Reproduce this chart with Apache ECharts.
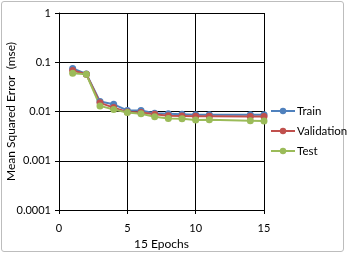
<!DOCTYPE html>
<html>
<head>
<meta charset="utf-8">
<script src="https://cdn.jsdelivr.net/npm/echarts@6/dist/echarts.min.js"></script>
<style>
  html, body { margin: 0; padding: 0; background: #fff; }
  #frame { position: absolute; left: 1px; top: 1px; width: 343px; height: 251px; border: 1px solid #bdbdbd; border-radius: 3px; box-sizing: border-box; }
  #chart { position: absolute; left: 0; top: 0; width: 348px; height: 259px; }
</style>
</head>
<body>
<div id="frame"></div>
<div id="chart"></div>
<script>
// epochs recorded (no 12, 13 in the source)
const epochs = [1, 2, 3, 4, 5, 6, 7, 8, 9, 10, 11, 14, 15];
const trainMse = [0.075, 0.058, 0.016, 0.014, 0.0105, 0.0105, 0.0092, 0.009, 0.0088, 0.0086, 0.0086, 0.0086, 0.0086];
const validMse = [0.068, 0.057, 0.015, 0.012, 0.0098, 0.0095, 0.0088, 0.0082, 0.0081, 0.008, 0.008, 0.0079, 0.0079];
const testMse = [0.06, 0.057, 0.013, 0.011, 0.0095, 0.009, 0.0078, 0.0072, 0.0071, 0.0067, 0.0068, 0.0065, 0.0064];
const seriesNames = ["Train", "Validation", "Test"];
const colors = ["#4f81bd", "#c0504d", "#9bbb59"];

const font = "Lato, 'Liberation Sans', sans-serif";
const pair = (ys) => epochs.map((x, i) => [x, ys[i]]);

function mkSeries(name, ys, color) {
  return {
    name: name,
    type: "line",
    data: pair(ys),
    symbol: "circle",
    symbolSize: 7,
    color: color,
    lineStyle: { width: 2, color: color },
    itemStyle: { color: color },
    animation: false,
  };
}

const chart = echarts.init(document.getElementById("chart"), null, { renderer: "canvas" });
chart.setOption({
  backgroundColor: "transparent",
  textStyle: { fontFamily: font },
  grid: { left: 59, right: 84, top: 13, bottom: 49, outerBoundsMode: "none" },
  legend: {
    orient: "vertical",
    left: 270,
    top: 105,
    padding: 0,
    itemWidth: 24,
    itemHeight: 8,
    itemGap: 8,
    textStyle: { fontFamily: font, fontSize: 11.5, color: "#000", padding: [0, 0, 0, -3] },
    data: seriesNames,
  },
  xAxis: {
    type: "value",
    min: 0,
    max: 15,
    interval: 5,
    name: "15 Epochs",
    nameLocation: "middle",
    nameGap: 28,
    nameMoveOverlap: false,
    nameTextStyle: { fontFamily: font, fontSize: 12, color: "#000" },
    axisLine: { lineStyle: { color: "#000", width: 1 } },
    axisTick: { show: true, length: 4, lineStyle: { color: "#000" } },
    axisLabel: { fontFamily: font, fontSize: 11, color: "#000", margin: 13 },
    splitLine: { show: true, lineStyle: { color: "#000", width: 1 } },
  },
  yAxis: {
    type: "log",
    logBase: 10,
    min: 0.0001,
    max: 1,
    name: "Mean Squared Error  (mse)",
    nameLocation: "middle",
    nameGap: 42,
    nameMoveOverlap: false,
    nameTextStyle: { fontFamily: font, fontSize: 12, color: "#000" },
    axisLine: { show: true, lineStyle: { color: "#000", width: 1 } },
    axisTick: { show: true, length: 4, lineStyle: { color: "#000" } },
    axisLabel: {
      fontFamily: font,
      fontSize: 11,
      color: "#000",
      margin: 8,
      formatter: (v) => String(Number(v.toPrecision(1))),
    },
    splitLine: { show: true, lineStyle: { color: "#000", width: 1 } },
  },
  series: [
    mkSeries(seriesNames[0], trainMse, colors[0]),
    mkSeries(seriesNames[1], validMse, colors[1]),
    mkSeries(seriesNames[2], testMse, colors[2]),
  ],
});
</script>
</body>
</html>
